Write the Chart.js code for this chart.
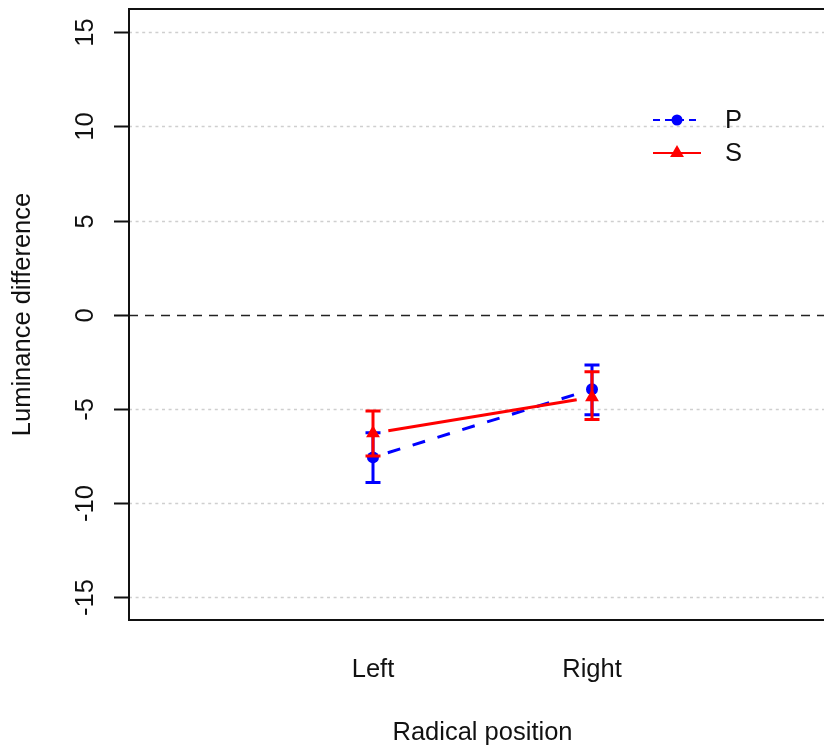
<!DOCTYPE html>
<html><head><meta charset="utf-8">
<script src="https://cdn.jsdelivr.net/npm/chart.js@4.4.1/dist/chart.umd.min.js"></script>
<style>
html,body{margin:0;padding:0;overflow:hidden;background:#fff;width:824px;height:749px}
#wrap{position:relative;width:850px;height:749px}
</style></head>
<body><div id="wrap"><canvas id="c" width="850" height="749"></canvas></div>
<script>
const categories = ['Left', 'Right'];
const seriesNames = ['P', 'S'];
const pMean  = [-7.60, -3.98];
const pLower = [-8.93, -5.33];
const pUpper = [-6.29, -2.69];
const sMean  = [-6.32, -4.40];
const sLower = [-7.53, -5.58];
const sUpper = [-5.13, -3.04];
const yTicks = [-15, -10, -5, 0, 5, 10, 15];
const xTitle = 'Radical position';
const yTitle = 'Luminance difference';

const FONT = "'Liberation Sans', Arial, sans-serif";
const FS = '25.5px ';
const BLUE = '#0000FF', RED = '#FF0000';

const errs = [
  {lower: pLower, upper: pUpper, color: BLUE, dash: [13, 13]},
  {lower: sLower, upper: sUpper, color: RED, dash: []}
];

const rPlot = {
  id: 'rPlot',
  beforeDatasetsDraw(chart) {
    const ctx = chart.ctx, a = chart.chartArea, y = chart.scales.y;
    ctx.save();
    ctx.beginPath(); ctx.rect(a.left, a.top, a.right - a.left, a.bottom - a.top); ctx.clip();
    yTicks.forEach(t => {
      const py = Math.round(y.getPixelForValue(t)) + 0.5;
      ctx.beginPath();
      if (t === 0) { ctx.strokeStyle = '#222'; ctx.lineWidth = 1.6; ctx.setLineDash([9, 7]); }
      else { ctx.strokeStyle = '#cfcfcf'; ctx.lineWidth = 1.3; ctx.setLineDash([3, 3.6]); }
      ctx.moveTo(a.left, py); ctx.lineTo(a.right, py); ctx.stroke();
    });
    ctx.restore();
  },
  beforeDatasetDraw(chart, args) {
    const ctx = chart.ctx, meta = chart.getDatasetMeta(args.index);
    const e = errs[args.index];
    const pts = meta.data;
    const gap = 15.5;
    ctx.save();
    ctx.strokeStyle = e.color; ctx.lineWidth = 3; ctx.setLineDash(e.dash);
    for (let i = 0; i < pts.length - 1; i++) {
      const x0 = pts[i].x, y0 = pts[i].y, x1 = pts[i+1].x, y1 = pts[i+1].y;
      const L = Math.hypot(x1 - x0, y1 - y0), ux = (x1 - x0) / L, uy = (y1 - y0) / L;
      ctx.beginPath();
      ctx.moveTo(x0 + ux * gap, y0 + uy * gap);
      ctx.lineTo(x1 - ux * gap, y1 - uy * gap);
      ctx.stroke();
    }
    ctx.restore();
  },
  afterDatasetDraw(chart, args) {
    const ctx = chart.ctx, meta = chart.getDatasetMeta(args.index), y = chart.scales.y;
    const e = errs[args.index];
    ctx.save();
    ctx.strokeStyle = e.color; ctx.lineWidth = 3; ctx.setLineDash([]);
    meta.data.forEach((p, i) => {
      const yl = y.getPixelForValue(e.lower[i]), yu = y.getPixelForValue(e.upper[i]);
      ctx.beginPath();
      ctx.moveTo(p.x, yl); ctx.lineTo(p.x, yu);
      ctx.moveTo(p.x - 7.5, yl); ctx.lineTo(p.x + 7.5, yl);
      ctx.moveTo(p.x - 7.5, yu); ctx.lineTo(p.x + 7.5, yu);
      ctx.stroke();
    });
    ctx.restore();
  },
  afterDraw(chart) {
    const ctx = chart.ctx, a = chart.chartArea, x = chart.scales.x, y = chart.scales.y;
    ctx.save();
    // box
    ctx.strokeStyle = '#111'; ctx.lineWidth = 2; ctx.setLineDash([]);
    ctx.strokeRect(a.left, a.top, a.right - a.left, a.bottom - a.top);
    // y ticks
    ctx.fillStyle = '#111';
    ctx.font = FS + FONT;
    yTicks.forEach(t => {
      const py = Math.round(y.getPixelForValue(t)) + 0.5;
      ctx.beginPath(); ctx.moveTo(a.left - 15, py); ctx.lineTo(a.left, py); ctx.stroke();
      ctx.save();
      ctx.translate(86, py); ctx.rotate(-Math.PI / 2);
      ctx.textAlign = 'center'; ctx.textBaseline = 'middle';
      ctx.fillText(String(t), 0, 0);
      ctx.restore();
    });
    // x labels
    ctx.textAlign = 'center'; ctx.textBaseline = 'middle';
    categories.forEach((c, i) => {
      ctx.fillText(c, x.getPixelForValue(i + 1), 670);
    });
    // titles
    ctx.fillText(xTitle, (a.left + a.right) / 2, 733);
    ctx.save();
    ctx.translate(23, (a.top + a.bottom) / 2); ctx.rotate(-Math.PI / 2);
    ctx.fillText(yTitle, 0, 0);
    ctx.restore();
    // legend
    const legend = [
      {name: seriesNames[0], color: BLUE, dash: [7, 5], style: 'circle', r: 5.5, y: 120},
      {name: seriesNames[1], color: RED, dash: [], style: 'triangle', r: 8, y: 153}
    ];
    legend.forEach(l => {
      ctx.strokeStyle = l.color; ctx.lineWidth = 2; ctx.setLineDash(l.dash);
      ctx.beginPath(); ctx.moveTo(653, l.y); ctx.lineTo(701, l.y); ctx.stroke();
      ctx.setLineDash([]);
      ctx.fillStyle = l.color;
      Chart.helpers.drawPoint(ctx, {pointStyle: l.style, radius: l.r, borderWidth: 0}, 677, l.y);
      ctx.fillStyle = '#111';
      ctx.textAlign = 'left'; ctx.textBaseline = 'middle';
      ctx.fillText(l.name, 725, l.y + 1);
    });
    ctx.restore();
  }
};

new Chart(document.getElementById('c'), {
  type: 'line',
  data: {
    datasets: [
      {label: seriesNames[0], data: pMean.map((v, i) => ({x: i + 1, y: v})), showLine: false,
       pointStyle: 'circle', pointRadius: 6, pointBackgroundColor: BLUE, pointBorderColor: BLUE, pointBorderWidth: 0, order: 1},
      {label: seriesNames[1], data: sMean.map((v, i) => ({x: i + 1, y: v})), showLine: false,
       pointStyle: 'triangle', pointRadius: 8, pointBackgroundColor: RED, pointBorderColor: RED, pointBorderWidth: 0, order: 0}
    ]
  },
  options: {
    responsive: false, animation: false,
    layout: {padding: {left: 129, top: 9, right: 14, bottom: 129}},
    plugins: {legend: {display: false}, tooltip: {enabled: false}},
    scales: {
      x: {type: 'linear', min: 1 - 244 / 219, max: 2 + 244 / 219, display: false},
      y: {type: 'linear', min: -16.25, max: 16.25, display: false}
    }
  },
  plugins: [rPlot]
});
</script></body></html>
